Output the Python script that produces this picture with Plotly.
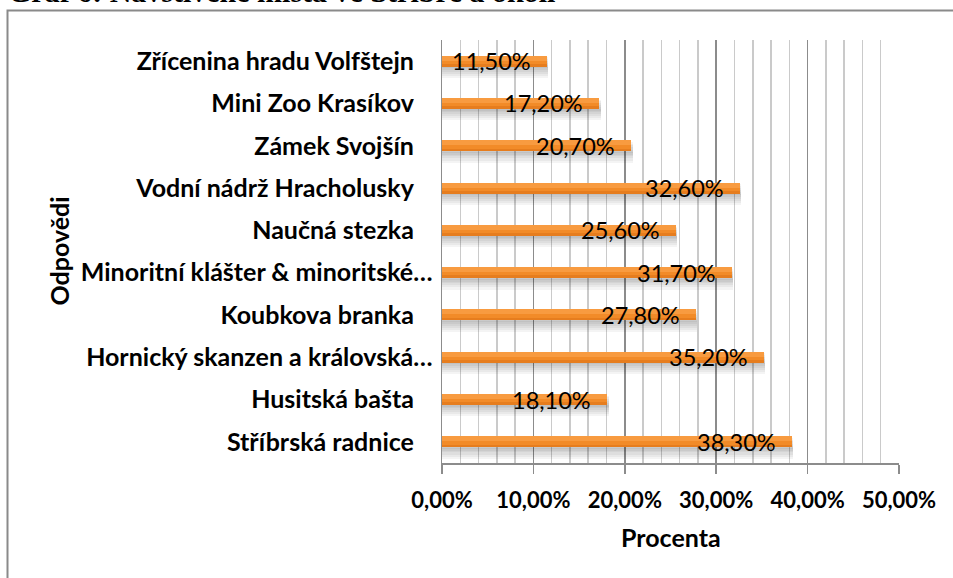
import plotly.graph_objects as go

# ---- data ----
categories = [
    "Stříbrská radnice",
    "Husitská bašta",
    "Hornický skanzen a královská…",
    "Koubkova branka",
    "Minoritní klášter & minoritské…",
    "Naučná stezka",
    "Vodní nádrž Hracholusky",
    "Zámek Svojšín",
    "Mini Zoo Krasíkov",
    "Zřícenina hradu Volfštejn",
]
values = [38.3, 18.1, 35.2, 27.8, 31.7, 25.6, 32.6, 20.7, 17.2, 11.5]
tick_values = [0, 10, 20, 30, 40, 50]
tick_labels = ["0,00%", "10,00%", "20,00%", "30,00%", "40,00%", "50,00%"]
title_text = "Graf 6: Navštívené místa ve Stříbře a okolí"
x_title = "Procenta"
y_title = "Odpovědi"

# ---- geometry (page pixels) ----
W, H = 953, 578
L, R, T, B = 442, 54, 40, 115
PW, PH = W - L - R, H - T - B

def px_x(p):
    return (p - L) / PW

def px_y(p):
    return (H - B - p) / PH

idx = list(range(len(categories)))
disp = [c if c.endswith("…") else c + "\u2002\u00a0" for c in categories]
bw = 0.26

fig = go.Figure()

# soft shadow layers
for d in [0.04, 0.08, 0.12, 0.17, 0.22, 0.27]:
    fig.add_trace(go.Bar(
        x=[v + 0.15 for v in values], y=idx, orientation="h",
        width=bw, offset=-bw / 2 - d,
        marker=dict(color="rgba(0,0,0,0.045)", line=dict(width=0)),
        hoverinfo="skip", showlegend=False,
    ))

# main bar (with simple gradient strips)
fig.add_trace(go.Bar(
    x=values, y=idx, orientation="h", width=bw, offset=-bw / 2,
    marker=dict(color="#F28B28", line=dict(width=0)), showlegend=False,
))
fig.add_trace(go.Bar(
    x=values, y=idx, orientation="h", width=bw * 0.45, offset=bw / 2 - bw * 0.45,
    marker=dict(color="#F89B40", line=dict(width=0)), hoverinfo="skip", showlegend=False,
))
fig.add_trace(go.Bar(
    x=values, y=idx, orientation="h", width=bw * 0.25, offset=-bw / 2,
    marker=dict(color="#E67D1E", line=dict(width=0)), hoverinfo="skip", showlegend=False,
))

annotations = []
for i, v in zip(idx, values):
    annotations.append(dict(
        x=v, y=i, xref="x", yref="y", xanchor="right", yanchor="middle",
        xshift=-14, yshift=0, showarrow=False,
        text=f"{v:.2f}".replace(".", ",") + "%",
        font=dict(family="Lato", size=23.5, color="#000000"),
    ))

annotations.append(dict(
    x=px_x(6), y=px_y(10), xref="paper", yref="paper",
    xanchor="left", yanchor="bottom", showarrow=False,
    text="<b>" + title_text + "</b>",
    font=dict(family="Liberation Serif", size=30, color="#000000"),
))
annotations.append(dict(
    x=px_x(58), y=0.5, xref="paper", yref="paper",
    xanchor="center", yanchor="middle", textangle=-90, showarrow=False,
    text="<b>" + y_title + "</b>",
    font=dict(family="Lato", size=25, color="#000000"),
))
annotations.append(dict(
    x=0.5, y=px_y(537), xref="paper", yref="paper",
    xanchor="center", yanchor="middle", showarrow=False,
    text="<b>" + x_title + "</b>",
    font=dict(family="Lato", size=25, color="#000000"),
))

fig.update_layout(
    width=W, height=H,
    margin=dict(l=L, r=R, t=T, b=B, pad=0),
    paper_bgcolor="white", plot_bgcolor="white",
    barmode="overlay", bargap=0,
    showlegend=False,
    annotations=annotations,
    shapes=[dict(
        type="rect", xref="paper", yref="paper",
        x0=px_x(7.5), x1=px_x(1000), y0=px_y(640), y1=px_y(10.5),
        line=dict(color="#8A8A8A", width=2), fillcolor="rgba(0,0,0,0)",
        layer="below",
    )],
    xaxis=dict(
        range=[0, 50], tickvals=tick_values, ticktext=tick_labels,
        showgrid=True, gridcolor="#8C8C8C", gridwidth=1.5,
        minor=dict(dtick=2, showgrid=True, gridcolor="#CACACA", gridwidth=1.5, ticks=""),
        ticks="outside", ticklen=9, tickwidth=1.5, tickcolor="#8C8C8C",
        showline=True, linecolor="#8C8C8C", linewidth=1.5,
        zeroline=False, ticklabelstandoff=8,
        tickfont=dict(family="Lato", size=22, color="#000000", weight="bold"),
        fixedrange=True,
    ),
    yaxis=dict(
        range=[-0.5, 9.5], tickvals=idx, ticktext=disp,
        showgrid=False, zeroline=False,
        showline=True, linecolor="#8C8C8C", linewidth=1.5,
        ticks="", ticklabelstandoff=3,
        tickfont=dict(family="Lato", size=25, color="#000000", weight="bold"),
        fixedrange=True,
    ),
)

fig.write_html(
    "out.html",
    config={"displayModeBar": False, "staticPlot": True},
    post_script="document.body.style.margin='0';document.body.style.overflow='hidden';",
)
